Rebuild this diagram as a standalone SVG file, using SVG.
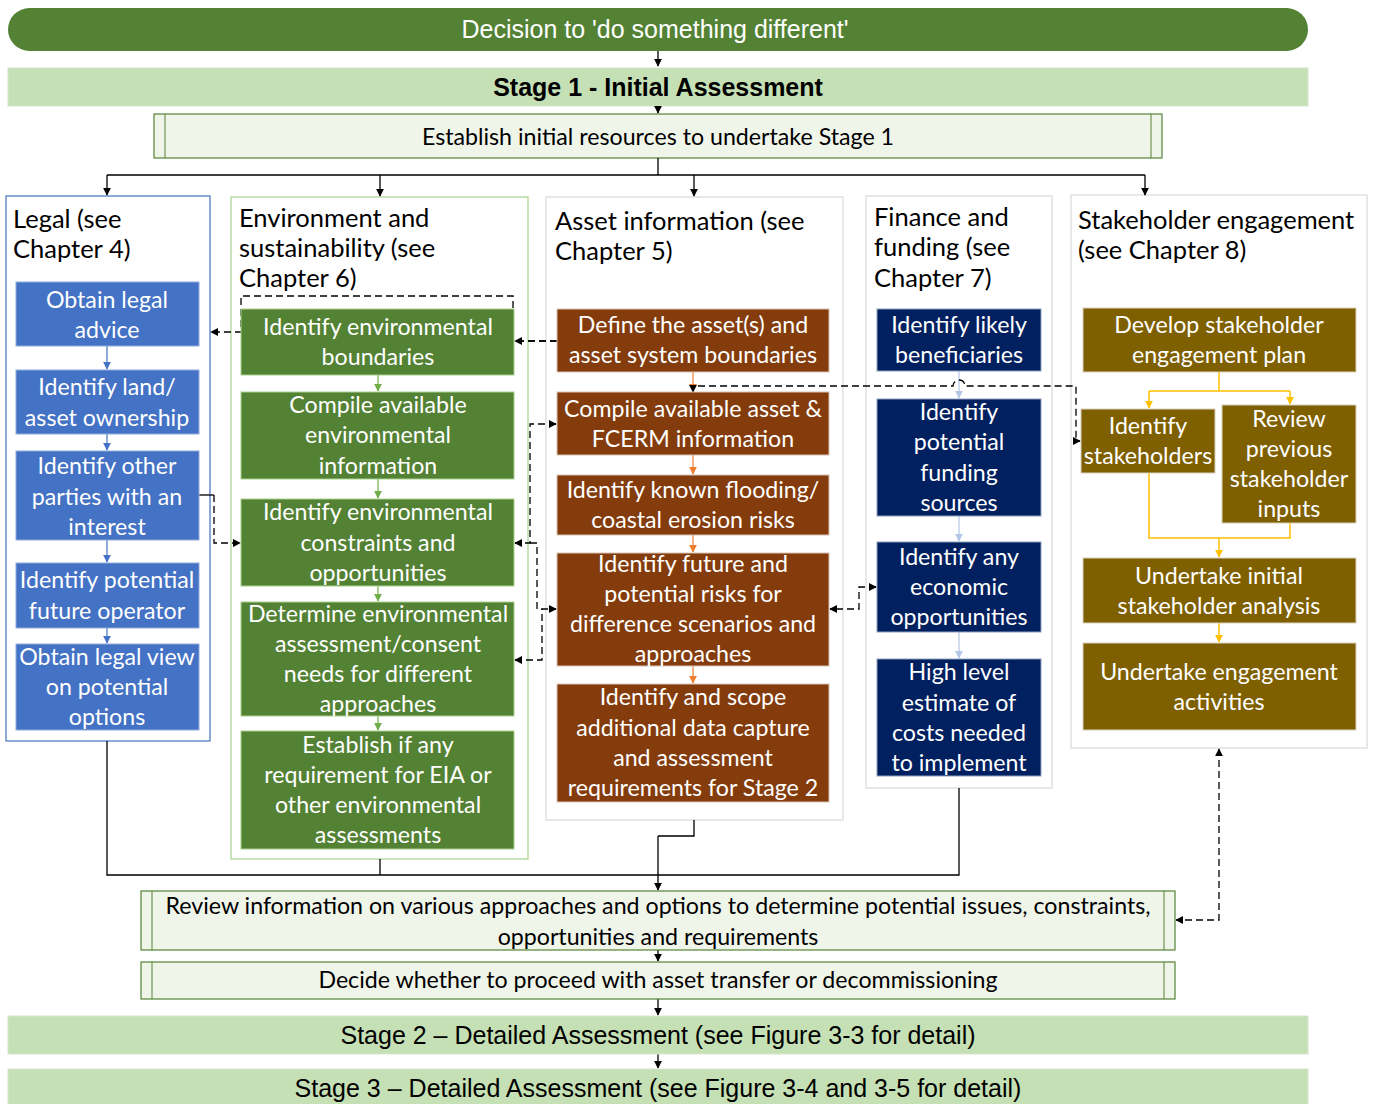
<svg xmlns="http://www.w3.org/2000/svg" width="1374" height="1104" viewBox="0 0 1374 1104">
<style>
.hdr{font-family:"Liberation Sans",Arial,sans-serif;text-anchor:middle;font-size:25px}
.bt{font-family:Lato,"Open Sans",sans-serif;font-size:23.2px;fill:#fff;text-anchor:middle}
.ct{font-family:Lato,"Open Sans",sans-serif;font-size:25.5px;fill:#000}
.pt{font-family:Lato,"Open Sans",sans-serif;font-size:23.2px;fill:#000;text-anchor:middle}
.proc{fill:#F0F5EA;stroke:#548235;stroke-width:1.2}
.stage{fill:#C5E0B4;stroke:#D6E6CC;stroke-width:1}
.lg{fill:#4472C4;stroke:#8FAADC;stroke-width:1}
.ev{fill:#548235;stroke:#A9D18E;stroke-width:1}
.as{fill:#843C0C;stroke:#D9C3B5;stroke-width:1}
.fn{fill:#002060;stroke:#8FA0C0;stroke-width:1}
.sk{fill:#7F6000;stroke:#D9D2BF;stroke-width:1}
.col{fill:#fff;stroke-width:1.2}
.k{fill:none;stroke:#000;stroke-width:1.3}
.kd{fill:none;stroke:#000;stroke-width:1.3;stroke-dasharray:7 4}
</style>
<defs>
<marker id="ak" viewBox="0 0 10 10" refX="9" refY="5" markerWidth="8" markerHeight="8" markerUnits="userSpaceOnUse" orient="auto-start-reverse"><path d="M0,0 L10,5 L0,10 z" fill="#000"/></marker>
<marker id="ab" viewBox="0 0 10 10" refX="9" refY="5" markerWidth="8" markerHeight="8" markerUnits="userSpaceOnUse" orient="auto"><path d="M0,0 L10,5 L0,10 z" fill="#4472C4"/></marker>
<marker id="ag" viewBox="0 0 10 10" refX="9" refY="5" markerWidth="8" markerHeight="8" markerUnits="userSpaceOnUse" orient="auto"><path d="M0,0 L10,5 L0,10 z" fill="#70AD47"/></marker>
<marker id="ao" viewBox="0 0 10 10" refX="9" refY="5" markerWidth="8" markerHeight="8" markerUnits="userSpaceOnUse" orient="auto"><path d="M0,0 L10,5 L0,10 z" fill="#ED7D31"/></marker>
<marker id="al" viewBox="0 0 10 10" refX="9" refY="5" markerWidth="8" markerHeight="8" markerUnits="userSpaceOnUse" orient="auto"><path d="M0,0 L10,5 L0,10 z" fill="#B4C7E7"/></marker>
<marker id="ay" viewBox="0 0 10 10" refX="9" refY="5" markerWidth="8" markerHeight="8" markerUnits="userSpaceOnUse" orient="auto"><path d="M0,0 L10,5 L0,10 z" fill="#FFC000"/></marker>
</defs>
<rect width="1374" height="1104" fill="#fff"/>

<g id="decision">
<rect x="8" y="8" width="1300" height="43" rx="21.5" fill="#548235"/>
<text class="hdr" x="655" y="38" fill="#fff">Decision to 'do something different'</text>
</g>
<g id="stage1">
<rect class="stage" x="8" y="68" width="1300" height="38"/>
<text class="hdr" x="658" y="96" font-weight="bold">Stage 1 - Initial Assessment</text>
</g>
<g id="establish">
<rect class="proc" x="154" y="114" width="1008" height="44"/>
<line x1="165" y1="114" x2="165" y2="158" stroke="#548235"/>
<line x1="1151" y1="114" x2="1151" y2="158" stroke="#548235"/>
<text class="pt" x="658" y="145">Establish initial resources to undertake Stage 1</text>
</g>

<g id="col-legal">
<rect class="col" x="6" y="196" width="204" height="545" stroke="#4472C4"/>
<text class="ct"><tspan x="13" y="228">Legal (see</tspan><tspan x="13" y="258">Chapter 4)</tspan></text>
</g>
<g id="col-env">
<rect class="col" x="231" y="197" width="297" height="662" stroke="#A9D18E"/>
<text class="ct"><tspan x="239" y="227">Environment and</tspan><tspan x="239" y="257">sustainability (see</tspan><tspan x="239" y="287">Chapter 6)</tspan></text>
</g>
<g id="col-asset">
<rect class="col" x="546" y="197" width="297" height="623" stroke="#D9D9D9"/>
<text class="ct"><tspan x="555" y="230">Asset information (see</tspan><tspan x="555" y="260">Chapter 5)</tspan></text>
</g>
<g id="col-finance">
<rect class="col" x="866" y="196" width="186" height="592" stroke="#D9D9D9"/>
<text class="ct"><tspan x="874" y="226">Finance and</tspan><tspan x="874" y="256">funding (see</tspan><tspan x="874" y="287">Chapter 7)</tspan></text>
</g>
<g id="col-stake">
<rect class="col" x="1071" y="195" width="296" height="553" stroke="#D9D9D9"/>
<text class="ct"><tspan x="1078" y="229">Stakeholder engagement</tspan><tspan x="1078" y="259">(see Chapter 8)</tspan></text>
</g>

<g id="connectors">
<path class="k" d="M658,51 V66" marker-end="url(#ak)"/>
<path class="k" d="M658,106 V113" marker-end="url(#ak)"/>
<path class="k" d="M658,158 V175 M107,175 H1145"/>
<path class="k" d="M107,175 V195" marker-end="url(#ak)"/>
<path class="k" d="M380,175 V196" marker-end="url(#ak)"/>
<path class="k" d="M694,175 V196" marker-end="url(#ak)"/>
<path class="k" d="M1145,175 V195" marker-end="url(#ak)"/>

<path d="M107,346 V369" stroke="#4472C4" stroke-width="1.2" marker-end="url(#ab)"/>
<path d="M107,434 V450" stroke="#4472C4" stroke-width="1.2" marker-end="url(#ab)"/>
<path d="M107,540 V562" stroke="#4472C4" stroke-width="1.2" marker-end="url(#ab)"/>
<path d="M107,628 V643" stroke="#4472C4" stroke-width="1.2" marker-end="url(#ab)"/>

<path d="M378,375 V391" stroke="#70AD47" stroke-width="1.2" marker-end="url(#ag)"/>
<path d="M378,479 V498" stroke="#70AD47" stroke-width="1.2" marker-end="url(#ag)"/>
<path d="M378,586 V601" stroke="#70AD47" stroke-width="1.2" marker-end="url(#ag)"/>
<path d="M378,716 V730" stroke="#70AD47" stroke-width="1.2" marker-end="url(#ag)"/>

<path d="M693,372 V391" stroke="#ED7D31" stroke-width="1.2" marker-end="url(#ao)"/>
<path d="M693,455 V474" stroke="#ED7D31" stroke-width="1.2" marker-end="url(#ao)"/>
<path d="M693,535 V552" stroke="#ED7D31" stroke-width="1.2" marker-end="url(#ao)"/>
<path d="M693,666 V683" stroke="#ED7D31" stroke-width="1.2" marker-end="url(#ao)"/>

<path d="M959,371 V398" stroke="#B4C7E7" stroke-width="1.2" marker-end="url(#al)"/>
<path d="M959,516 V541" stroke="#B4C7E7" stroke-width="1.2" marker-end="url(#al)"/>
<path d="M959,632 V658" stroke="#B4C7E7" stroke-width="1.2" marker-end="url(#al)"/>

<path d="M1219,372 V391 M1149,391 H1290" fill="none" stroke="#FFC000" stroke-width="1.5"/>
<path d="M1149,391 V408" stroke="#FFC000" stroke-width="1.5" marker-end="url(#ay)"/>
<path d="M1290,391 V404" stroke="#FFC000" stroke-width="1.5" marker-end="url(#ay)"/>
<path d="M1149,473 V538 H1290 V523" fill="none" stroke="#FFC000" stroke-width="1.5"/>
<path d="M1219,538 V557" stroke="#FFC000" stroke-width="1.5" marker-end="url(#ay)"/>
<path d="M1219,623 V642" stroke="#FFC000" stroke-width="1.5" marker-end="url(#ay)"/>

<path class="kd" d="M557,341 H513 V296 H241 V332 H211" marker-end="url(#ak)"/>
<path class="kd" d="M557,341 H515" marker-end="url(#ak)"/>
<path class="k" d="M199,495 H214"/>
<path class="kd" d="M214,495 V543 H240" marker-end="url(#ak)"/>
<path class="kd" d="M556,424 H530 V543 H515" marker-start="url(#ak)" marker-end="url(#ak)"/>
<path class="kd" d="M530,543 H537 V609 H556" marker-end="url(#ak)"/>
<path class="kd" d="M515,660 H542 V609" marker-start="url(#ak)"/>
<path class="kd" d="M876,587 H859 V609 H830" marker-start="url(#ak)" marker-end="url(#ak)"/>
<path class="kd" d="M693,392 V386 H953 A6,6 0 0 1 965,386 H1076 V441 H1080" marker-start="url(#ak)" marker-end="url(#ak)"/>

<path class="k" d="M107,741 V875 H959 V788 M380,859 V875 M694,820 V836 H658"/>
<path class="k" d="M658,836 V890" marker-end="url(#ak)"/>
<path class="kd" d="M1219,749 V920 H1176" marker-start="url(#ak)" marker-end="url(#ak)"/>
<path class="k" d="M658,950 V961" marker-end="url(#ak)"/>
<path class="k" d="M658,999 V1015" marker-end="url(#ak)"/>
<path class="k" d="M658,1054 V1068" marker-end="url(#ak)"/>
</g>

<g id="legal-1"><rect class="lg" x="16" y="282" width="183" height="64"/><text class="bt"><tspan x="107" y="308">Obtain legal</tspan><tspan x="107" y="338">advice</tspan></text></g>
<g id="legal-2"><rect class="lg" x="16" y="370" width="183" height="64"/><text class="bt"><tspan x="107" y="395">Identify land/</tspan><tspan x="107" y="426">asset ownership</tspan></text></g>
<g id="legal-3"><rect class="lg" x="16" y="451" width="183" height="89"/><text class="bt"><tspan x="107" y="474">Identify other</tspan><tspan x="107" y="505">parties with an</tspan><tspan x="107" y="535">interest</tspan></text></g>
<g id="legal-4"><rect class="lg" x="16" y="563" width="183" height="65"/><text class="bt"><tspan x="107" y="588">Identify potential</tspan><tspan x="107" y="619">future operator</tspan></text></g>
<g id="legal-5"><rect class="lg" x="16" y="644" width="183" height="86"/><text class="bt"><tspan x="107" y="665">Obtain legal view</tspan><tspan x="107" y="695">on potential</tspan><tspan x="107" y="725">options</tspan></text></g>

<g id="env-1"><rect class="ev" x="241" y="309" width="273" height="66"/><text class="bt"><tspan x="378" y="335">Identify environmental</tspan><tspan x="378" y="365">boundaries</tspan></text></g>
<g id="env-2"><rect class="ev" x="241" y="392" width="273" height="87"/><text class="bt"><tspan x="378" y="413">Compile available</tspan><tspan x="378" y="443">environmental</tspan><tspan x="378" y="474">information</tspan></text></g>
<g id="env-3"><rect class="ev" x="241" y="499" width="273" height="87"/><text class="bt"><tspan x="378" y="520">Identify environmental</tspan><tspan x="378" y="551">constraints and</tspan><tspan x="378" y="581">opportunities</tspan></text></g>
<g id="env-4"><rect class="ev" x="241" y="602" width="273" height="114"/><text class="bt"><tspan x="378" y="622">Determine environmental</tspan><tspan x="378" y="652">assessment/consent</tspan><tspan x="378" y="682">needs for different</tspan><tspan x="378" y="712">approaches</tspan></text></g>
<g id="env-5"><rect class="ev" x="241" y="731" width="273" height="118"/><text class="bt"><tspan x="378" y="753">Establish if any</tspan><tspan x="378" y="783">requirement for EIA or</tspan><tspan x="378" y="813">other environmental</tspan><tspan x="378" y="843">assessments</tspan></text></g>

<g id="asset-1"><rect class="as" x="557" y="309" width="272" height="63"/><text class="bt"><tspan x="693" y="333">Define the asset(s) and</tspan><tspan x="693" y="363">asset system boundaries</tspan></text></g>
<g id="asset-2"><rect class="as" x="557" y="392" width="272" height="63"/><text class="bt"><tspan x="693" y="417">Compile available asset &amp;</tspan><tspan x="693" y="447">FCERM information</tspan></text></g>
<g id="asset-3"><rect class="as" x="557" y="475" width="272" height="60"/><text class="bt"><tspan x="693" y="498">Identify known flooding/</tspan><tspan x="693" y="528">coastal erosion risks</tspan></text></g>
<g id="asset-4"><rect class="as" x="557" y="553" width="272" height="113"/><text class="bt"><tspan x="693" y="572">Identify future and</tspan><tspan x="693" y="602">potential risks for</tspan><tspan x="693" y="632">difference scenarios and</tspan><tspan x="693" y="662">approaches</tspan></text></g>
<g id="asset-5"><rect class="as" x="557" y="684" width="272" height="118"/><text class="bt"><tspan x="693" y="705">Identify and scope</tspan><tspan x="693" y="736">additional data capture</tspan><tspan x="693" y="766">and assessment</tspan><tspan x="693" y="796">requirements for Stage 2</tspan></text></g>

<g id="fin-1"><rect class="fn" x="877" y="309" width="164" height="62"/><text class="bt"><tspan x="959" y="333">Identify likely</tspan><tspan x="959" y="363">beneficiaries</tspan></text></g>
<g id="fin-2"><rect class="fn" x="877" y="399" width="164" height="117"/><text class="bt"><tspan x="959" y="420">Identify</tspan><tspan x="959" y="450">potential</tspan><tspan x="959" y="481">funding</tspan><tspan x="959" y="511">sources</tspan></text></g>
<g id="fin-3"><rect class="fn" x="877" y="542" width="164" height="90"/><text class="bt"><tspan x="959" y="565">Identify any</tspan><tspan x="959" y="595">economic</tspan><tspan x="959" y="625">opportunities</tspan></text></g>
<g id="fin-4"><rect class="fn" x="877" y="659" width="164" height="117"/><text class="bt"><tspan x="959" y="680">High level</tspan><tspan x="959" y="711">estimate of</tspan><tspan x="959" y="741">costs needed</tspan><tspan x="959" y="771">to implement</tspan></text></g>

<g id="stake-1"><rect class="sk" x="1083" y="308" width="273" height="64"/><text class="bt"><tspan x="1219" y="333">Develop stakeholder</tspan><tspan x="1219" y="363">engagement plan</tspan></text></g>
<g id="stake-2"><rect class="sk" x="1081" y="409" width="134" height="64"/><text class="bt"><tspan x="1148" y="434">Identify</tspan><tspan x="1148" y="464">stakeholders</tspan></text></g>
<g id="stake-3"><rect class="sk" x="1222" y="405" width="134" height="118"/><text class="bt"><tspan x="1289" y="427">Review</tspan><tspan x="1289" y="457">previous</tspan><tspan x="1289" y="487">stakeholder</tspan><tspan x="1289" y="517">inputs</tspan></text></g>
<g id="stake-4"><rect class="sk" x="1083" y="558" width="273" height="65"/><text class="bt"><tspan x="1219" y="584">Undertake initial</tspan><tspan x="1219" y="614">stakeholder analysis</tspan></text></g>
<g id="stake-5"><rect class="sk" x="1083" y="643" width="273" height="87"/><text class="bt"><tspan x="1219" y="680">Undertake engagement</tspan><tspan x="1219" y="710">activities</tspan></text></g>

<g id="review">
<rect class="proc" x="141" y="891" width="1034" height="59"/>
<line x1="152" y1="891" x2="152" y2="950" stroke="#548235"/>
<line x1="1164" y1="891" x2="1164" y2="950" stroke="#548235"/>
<text class="pt"><tspan x="658" y="914">Review information on various approaches and options to determine potential issues, constraints,</tspan><tspan x="658" y="945">opportunities and requirements</tspan></text>
</g>
<g id="decide">
<rect class="proc" x="141" y="962" width="1034" height="37"/>
<line x1="152" y1="962" x2="152" y2="999" stroke="#548235"/>
<line x1="1164" y1="962" x2="1164" y2="999" stroke="#548235"/>
<text class="pt" x="658" y="988">Decide whether to proceed with asset transfer or decommissioning</text>
</g>
<g id="stage2">
<rect class="stage" x="8" y="1016" width="1300" height="38"/>
<text class="hdr" x="658" y="1044">Stage 2 – Detailed Assessment (see Figure 3-3 for detail)</text>
</g>
<g id="stage3">
<rect class="stage" x="8" y="1069" width="1300" height="38"/>
<text class="hdr" x="658" y="1097">Stage 3 – Detailed Assessment (see Figure 3-4 and 3-5 for detail)</text>
</g>
</svg>
